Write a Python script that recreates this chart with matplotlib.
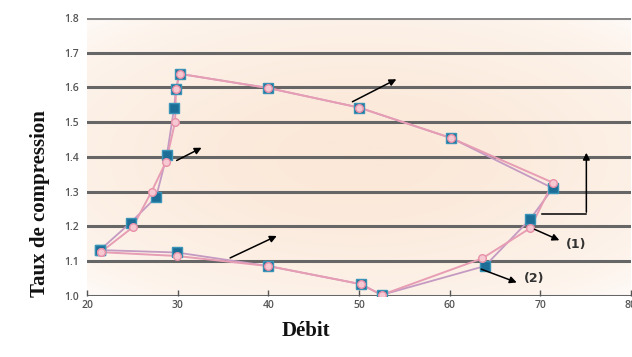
import numpy as np
import matplotlib
matplotlib.use("Agg")
import matplotlib.pyplot as plt

# Operating loop of the compressor: flow (Débit) vs. pressure ratio
debit_1 = [21.4, 24.8, 27.6, 28.8, 29.6, 29.8, 30.2, 40.0, 50.0, 60.2, 71.4, 68.9, 63.9, 52.5, 50.2, 40.0, 29.9, 21.4]
taux_1 = [1.132, 1.211, 1.284, 1.406, 1.542, 1.596, 1.639, 1.598, 1.542, 1.454, 1.310, 1.221, 1.086, 1.003, 1.034, 1.086, 1.125, 1.132]

debit_2 = [21.5, 25.0, 27.1, 28.7, 29.7, 29.8, 30.2, 40.0, 50.0, 60.2, 71.4, 68.9, 63.6, 52.5, 50.2, 40.0, 29.9, 21.5]
taux_2 = [1.126, 1.197, 1.300, 1.386, 1.500, 1.596, 1.639, 1.598, 1.542, 1.454, 1.326, 1.195, 1.108, 1.003, 1.034, 1.086, 1.115, 1.126]

x_ticks = [20, 30, 40, 50, 60, 70, 80]
y_ticks = [1.0, 1.1, 1.2, 1.3, 1.4, 1.5, 1.6, 1.7, 1.8]

fig = plt.figure(figsize=(6.32, 3.57), dpi=100)
ax = fig.add_axes([0.138, 0.171, 0.86, 0.779])
ax.set_xlim(20, 80)
ax.set_ylim(1.0, 1.8)

# soft peach glow behind the plot
gx, gy = np.meshgrid(np.linspace(-1, 1, 300), np.linspace(-1, 1, 200))
r = np.sqrt((gx * 0.8) ** 2 + (gy * 0.9) ** 2)
t = np.clip(1.15 - r, 0, 1) ** 0.6
c_in = np.array([251, 232, 216]) / 255
c_out = np.array([254, 249, 245]) / 255
img = c_out[None, None, :] * (1 - t[..., None]) + c_in[None, None, :] * t[..., None]
ax.imshow(img, extent=[20, 80, 1.0, 1.8], aspect="auto", zorder=0, interpolation="bilinear")

for y in y_ticks:
    ax.axhline(y, color="#8a8a8a" if y == 1.8 else "#666666", lw=2.2, zorder=1)

for s in ax.spines.values():
    s.set_visible(False)

ax.set_xticks(x_ticks)
ax.set_yticks(y_ticks)
ax.set_xticklabels([str(v) for v in x_ticks])
ax.set_yticklabels([f"{v:.1f}" for v in y_ticks])
ax.tick_params(axis="y", length=0, pad=6, labelsize=7.5, labelcolor="#555555")
ax.tick_params(axis="x", direction="in", length=4, width=1, color="#555555",
               pad=3, labelsize=7.5, labelcolor="#555555")
for lab in ax.get_xticklabels() + ax.get_yticklabels():
    lab.set_fontfamily("Open Sans")
    lab.set_fontweight("semibold")

# curves
ax.plot(debit_1, taux_1, color="#c49ac2", lw=1.3, zorder=3)
ax.plot(debit_2, taux_2, color="#e79db3", lw=1.4, zorder=4)
ax.plot(debit_1, taux_1, ls="none", marker="s", ms=6.5, mfc="#1d6e96",
        mec="#3a94b8", mew=1, zorder=5)
ax.plot(debit_2, taux_2, ls="none", marker="o", ms=5.5, mfc="#f6c8d2",
        mec="#e790a8", mew=1, zorder=6)

arrow = dict(arrowstyle="-|>", color="black", lw=1.1, mutation_scale=10)
ax.annotate("", xy=(32.9, 1.43), xytext=(29.6, 1.386), arrowprops=arrow, zorder=7)
ax.annotate("", xy=(54.4, 1.627), xytext=(49.0, 1.555), arrowprops=arrow, zorder=7)
ax.annotate("", xy=(41.2, 1.176), xytext=(35.5, 1.106), arrowprops=arrow, zorder=7)
ax.annotate("", xy=(72.4, 1.157), xytext=(69.1, 1.195), arrowprops=arrow, zorder=7)
ax.annotate("", xy=(67.7, 1.036), xytext=(63.2, 1.08), arrowprops=arrow, zorder=7)
# elbow arrow on the right
ax.plot([70.2, 75.1], [1.235, 1.235], color="black", lw=1.1, zorder=7)
ax.annotate("", xy=(75.1, 1.42), xytext=(75.1, 1.233), arrowprops=arrow, zorder=7)

ax.text(72.8, 1.148, "(1)", fontsize=9, fontweight="bold", color="#333333",
        va="center", ha="left", family="DejaVu Sans")
ax.text(68.2, 1.05, "(2)", fontsize=9, fontweight="bold", color="#333333",
        va="center", ha="left", family="DejaVu Sans")

fig.text(305.5 / 632, 1 - 331 / 357, "Débit", fontsize=15, fontweight="bold",
         family="Liberation Serif", ha="center", va="center", color="#111111")
fig.text(40 / 632, 1 - 204 / 357, "Taux de compression", fontsize=15,
         fontweight="bold", family="Liberation Serif", rotation=90,
         ha="center", va="center", color="#111111")

fig.savefig("out.png", dpi=100)
